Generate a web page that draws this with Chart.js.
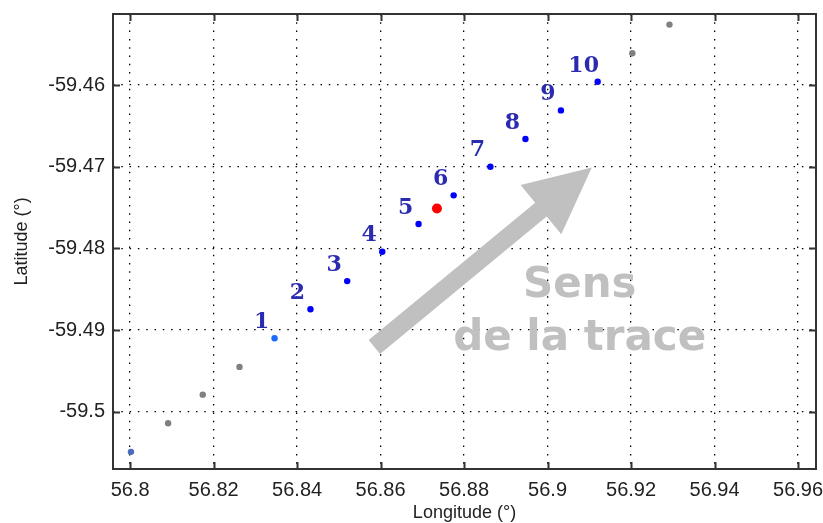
<!DOCTYPE html>
<html>
<head>
<meta charset="utf-8">
<script src="https://cdn.jsdelivr.net/npm/chart.js@4/dist/chart.umd.min.js"></script>
<style>
  html, body { margin: 0; padding: 0; background: #fff; }
  #wrap { width: 823px; height: 523px; }
</style>
</head>
<body>
<div id="wrap"><canvas id="trackChart"></canvas></div>
<script>
// track points before, on and after the labelled segment
const lonBefore = [56.8002, 56.8091, 56.8174, 56.8262];
const latBefore = [-59.5049, -59.5014, -59.4979, -59.4945];
const lonTrack = [56.8346, 56.8432, 56.8520, 56.8604, 56.8691, 56.8775, 56.8863, 56.8947, 56.9032, 56.9120];
const latTrack = [-59.4910, -59.48745, -59.4840, -59.4804, -59.4770, -59.4735, -59.4700, -59.4666, -59.4631, -59.4596];
const trackLabels = ["1", "2", "3", "4", "5", "6", "7", "8", "9", "10"];
const lonAfter = [56.9203, 56.9292];
const latAfter = [-59.4561, -59.4526];
const centerPoint = [56.8735, -59.4751];

const xTicks = [56.8, 56.82, 56.84, 56.86, 56.88, 56.9, 56.92, 56.94, 56.96];
const yTicks = [-59.46, -59.47, -59.48, -59.49, -59.5];

// direction arrow (tail, tip) and caption anchor, in lon/lat
const arrowTail = [56.8585, -59.49207];
const arrowTip = [56.9106, -59.4701];
const captionAnchor = [56.9077, -59.48594];
const captionLines = ["Sens", "de la trace"];

function toPoints(xs, ys) {
  return xs.map((x, i) => ({ x: x, y: ys[i] }));
}

// first point is drawn in a greyish blue, point 1 in a lighter blue
const beforeColors = latBefore.map((v, i) => i === 0 ? "#4a6cbf" : "#808080");
const trackColors = latTrack.map((v, i) => i === 0 ? "#1a6aff" : "#0000ff");

const decorations = {
  id: "decorations",
  beforeDatasetsDraw(chart) {
    const { ctx, scales: { x, y } } = chart;
    // arrow
    const x0 = x.getPixelForValue(arrowTail[0]), y0 = y.getPixelForValue(arrowTail[1]);
    const x1 = x.getPixelForValue(arrowTip[0]), y1 = y.getPixelForValue(arrowTip[1]);
    const len = Math.hypot(x1 - x0, y1 - y0);
    const ux = (x1 - x0) / len, uy = (y1 - y0) / len;
    const nx = -uy, ny = ux;
    const shaft = 9, headLen = 66, headHalf = 32;
    const bx = x1 - ux * headLen, by = y1 - uy * headLen;
    ctx.save();
    ctx.fillStyle = "#c0c0c0";
    ctx.beginPath();
    ctx.moveTo(x0 + nx * shaft, y0 + ny * shaft);
    ctx.lineTo(bx + nx * shaft, by + ny * shaft);
    ctx.lineTo(bx + nx * headHalf, by + ny * headHalf);
    ctx.lineTo(x1, y1);
    ctx.lineTo(bx - nx * headHalf, by - ny * headHalf);
    ctx.lineTo(bx - nx * shaft, by - ny * shaft);
    ctx.lineTo(x0 - nx * shaft, y0 - ny * shaft);
    ctx.closePath();
    ctx.fill();

    // caption
    const cx = x.getPixelForValue(captionAnchor[0]);
    const cy = y.getPixelForValue(captionAnchor[1]);
    ctx.font = "bold 42px 'DejaVu Sans'";
    ctx.textAlign = "center";
    ctx.textBaseline = "alphabetic";
    captionLines.forEach((t, i) => ctx.fillText(t, cx, cy + i * 53));
    ctx.restore();
  },
  afterDatasetsDraw(chart) {
    const { ctx, chartArea: a, scales: { x, y } } = chart;
    ctx.save();
    // point numbers
    ctx.font = "bold 22px 'DejaVu Serif'";
    ctx.fillStyle = "#2b2bb0";
    ctx.textAlign = "center";
    ctx.textBaseline = "middle";
    trackLabels.forEach((t, i) => {
      const px = x.getPixelForValue(lonTrack[i]);
      const py = y.getPixelForValue(latTrack[i]);
      ctx.fillText(t, px - 13 - (t.length - 1) * 1, py - 16);
    });

    // frame and inward ticks on all sides
    ctx.strokeStyle = "#333";
    ctx.lineWidth = 2;
    ctx.strokeRect(a.left, a.top, a.right - a.left, a.bottom - a.top);
    ctx.beginPath();
    xTicks.forEach(v => {
      const px = Math.round(x.getPixelForValue(v)) + 0.5;
      ctx.moveTo(px, a.bottom); ctx.lineTo(px, a.bottom - 7);
      ctx.moveTo(px, a.top); ctx.lineTo(px, a.top + 7);
    });
    yTicks.forEach(v => {
      const py = Math.round(y.getPixelForValue(v)) + 0.5;
      ctx.moveTo(a.left, py); ctx.lineTo(a.left + 7, py);
      ctx.moveTo(a.right, py); ctx.lineTo(a.right - 7, py);
    });
    ctx.stroke();
    ctx.restore();
  }
};

const tickFont = { family: "'Liberation Sans', Arial, sans-serif", size: 20 };
const titleFont = { family: "'Liberation Sans', Arial, sans-serif", size: 18, lineHeight: 1 };

function noPadding(scale) {
  scale.paddingLeft = 0;
  scale.paddingRight = 0;
  scale.paddingTop = 0;
  scale.paddingBottom = 0;
}

new Chart(document.getElementById("trackChart"), {
  type: "scatter",
  data: {
    datasets: [
      {
        label: "avant",
        data: toPoints(lonBefore, latBefore),
        backgroundColor: beforeColors,
        pointRadius: 3.2,
        pointBorderWidth: 0
      },
      {
        label: "trace",
        data: toPoints(lonTrack, latTrack),
        backgroundColor: trackColors,
        pointRadius: 3.2,
        pointBorderWidth: 0
      },
      {
        label: "apres",
        data: toPoints(lonAfter, latAfter),
        backgroundColor: "#808080",
        pointRadius: 3.2,
        pointBorderWidth: 0
      },
      {
        label: "centre",
        data: [{ x: centerPoint[0], y: centerPoint[1] }],
        backgroundColor: "#ff0000",
        pointRadius: 5,
        pointBorderWidth: 0
      }
    ]
  },
  options: {
    responsive: true,
    maintainAspectRatio: false,
    animation: false,
    layout: { padding: { top: 14, right: 7, left: 0, bottom: 0 } },
    plugins: {
      legend: { display: false },
      tooltip: { enabled: false }
    },
    scales: {
      x: {
        type: "linear",
        min: 56.7959,
        max: 56.9643,
        afterBuildTicks: (scale) => { scale.ticks = xTicks.map(v => ({ value: v })); },
        afterFit: (scale) => { scale.height = 54; noPadding(scale); },
        ticks: {
          font: tickFont,
          color: "#222",
          padding: 9,
          maxRotation: 0,
          callback: (v) => String(+v.toFixed(2))
        },
        grid: { color: "#000", lineWidth: 1.3, drawTicks: false },
        border: { display: false, dash: [1.5, 6.8] },
        title: {
          display: true,
          text: "Longitude (°)",
          font: titleFont,
          color: "#222",
          padding: { top: 0, bottom: 1 }
        }
      },
      y: {
        type: "linear",
        min: -59.5070,
        max: -59.4513,
        afterBuildTicks: (scale) => { scale.ticks = yTicks.map(v => ({ value: v })); },
        afterFit: (scale) => { scale.width = 113; noPadding(scale); },
        ticks: {
          font: tickFont,
          color: "#222",
          padding: 8,
          callback: (v) => String(+v.toFixed(2))
        },
        grid: { color: "#000", lineWidth: 1.3, drawTicks: false },
        border: { display: false, dash: [1.5, 6.8] },
        title: {
          display: true,
          text: "Latitude (°)",
          font: titleFont,
          color: "#222",
          padding: { top: 13, bottom: 0 }
        }
      }
    }
  },
  plugins: [decorations]
});
</script>
</body>
</html>
